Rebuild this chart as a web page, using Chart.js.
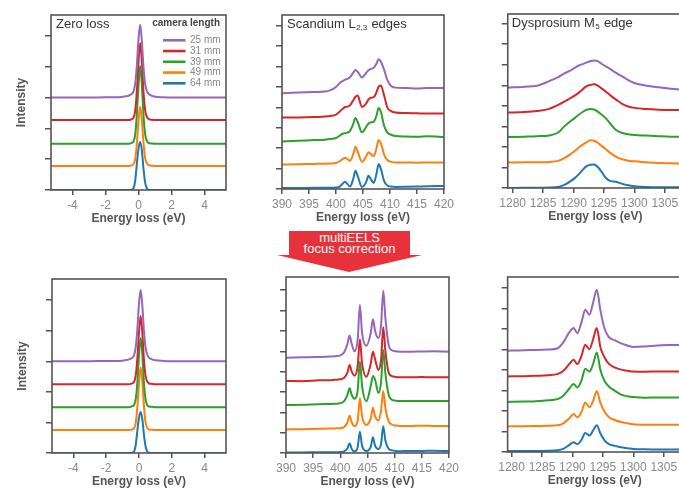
<!DOCTYPE html>
<html>
<head>
<meta charset="utf-8">
<script src="https://cdn.jsdelivr.net/npm/chart.js@4.4.1/dist/chart.umd.min.js"></script>
<style>
  body { margin: 0; width: 679px; height: 490px; overflow: hidden; position: relative; background: #fff;
         font-family: "Liberation Sans", Arial, sans-serif; }
  canvas { position: absolute; }
  #arrow { position: absolute; left: 277px; top: 231px; width: 145px; height: 41px; background: #e8323b;
           clip-path: polygon(12px 0, 133px 0, 133px 24px, 145px 24px, 72px 41px, 0 24px, 12px 24px);
           color: #fff; text-align: center; font-size: 13px; line-height: 10.5px; padding-top: 2px; box-sizing: border-box; }
</style>
</head>
<body>
<canvas id="zlTop"></canvas>
<canvas id="scTop"></canvas>
<canvas id="dyTop"></canvas>
<canvas id="zlBot"></canvas>
<canvas id="scBot"></canvas>
<canvas id="dyBot"></canvas>
<div id="arrow">multiEELS<br>focus correction</div>
<script>
// camera lengths, top of the stack first
const cameraLengths = ['25 mm', '31 mm', '39 mm', '49 mm', '64 mm'];
const lineColors = ['#9467bd', '#d62728', '#2ca02c', '#ff7f0e', '#1f77b4'];

// tick labels
const zlTicks = [-4, -2, 0, 2, 4];
const scTicks = [390, 395, 400, 405, 410, 415, 420];
const dyTicks = [1280, 1285, 1290, 1295, 1300, 1305];

// zero loss, energy axis (eV)
const zlX = [-5.3, -3, -2, -1.5, -1, -0.8, -0.6, -0.5, -0.4, -0.3, -0.2, -0.1, 0, 0.1, 0.2, 0.3, 0.4, 0.5, 0.6, 0.8, 1, 1.5, 2, 3, 5.3];
// before correction
const zlTop25 = [3.0, 3.0, 3.01, 3.01, 3.02, 3.04, 3.06, 3.09, 3.12, 3.2, 3.45, 4.05, 4.9, 5.36, 4.85, 4.0, 3.45, 3.22, 3.13, 3.06, 3.03, 3.01, 3.0, 3.0, 3.0];
const zlTop31 = [2.27, 2.27, 2.27, 2.27, 2.27, 2.27, 2.27, 2.28, 2.3, 2.35, 2.57, 3.2, 4.15, 4.77, 4.2, 3.2, 2.6, 2.38, 2.31, 2.28, 2.27, 2.27, 2.27, 2.27, 2.27];
const zlTop39 = [1.5, 1.5, 1.5, 1.5, 1.5, 1.5, 1.5, 1.51, 1.53, 1.58, 1.8, 2.45, 3.4, 4.03, 3.45, 2.45, 1.82, 1.6, 1.53, 1.51, 1.5, 1.5, 1.5, 1.5, 1.5];
const zlTop49 = [0.78, 0.78, 0.78, 0.78, 0.78, 0.78, 0.78, 0.79, 0.8, 0.84, 1.0, 1.5, 2.25, 2.7, 2.3, 1.55, 1.05, 0.87, 0.81, 0.79, 0.78, 0.78, 0.78, 0.78, 0.78];
const zlTop64 = [0, 0, 0, 0, 0, 0, 0, 0, 0.01, 0.06, 0.3, 0.85, 1.35, 1.56, 1.3, 0.7, 0.25, 0.06, 0.01, 0, 0, 0, 0, 0, 0];
// after correction
const zlBot25 = [3.0, 3.0, 3.01, 3.01, 3.02, 3.04, 3.06, 3.09, 3.12, 3.2, 3.45, 4.05, 4.9, 5.33, 4.85, 4.0, 3.45, 3.22, 3.13, 3.06, 3.03, 3.01, 3.0, 3.0, 3.0];
const zlBot31 = [2.25, 2.25, 2.25, 2.25, 2.25, 2.25, 2.25, 2.26, 2.28, 2.33, 2.53, 3.1, 3.95, 4.48, 3.95, 3.05, 2.52, 2.34, 2.28, 2.26, 2.25, 2.25, 2.25, 2.25, 2.25];
const zlBot39 = [1.5, 1.5, 1.5, 1.5, 1.5, 1.5, 1.5, 1.51, 1.53, 1.57, 1.76, 2.3, 3.2, 3.76, 3.25, 2.3, 1.75, 1.57, 1.52, 1.51, 1.5, 1.5, 1.5, 1.5, 1.5];
const zlBot49 = [0.75, 0.75, 0.75, 0.75, 0.75, 0.75, 0.75, 0.76, 0.77, 0.81, 0.98, 1.5, 2.3, 2.8, 2.35, 1.55, 1.0, 0.82, 0.77, 0.76, 0.75, 0.75, 0.75, 0.75, 0.75];
const zlBot64 = [0, 0, 0, 0, 0, 0, 0, 0, 0.01, 0.05, 0.26, 0.73, 1.16, 1.34, 1.12, 0.6, 0.22, 0.05, 0.01, 0, 0, 0, 0, 0, 0];

// scandium L2,3 edges
const scX = [390, 393, 396, 398, 399, 400, 400.7, 401.3, 401.7, 402.1, 402.6, 403.2, 403.6, 404.0, 404.8, 405.6, 406.0, 406.4, 407.0, 407.5, 407.9, 408.3, 408.9, 409.5, 410.2, 411, 413, 415, 417, 420];
const scTop25 = [4.7, 4.73, 4.75, 4.78, 4.85, 5.0, 5.2, 5.3, 5.36, 5.4, 5.48, 5.7, 5.83, 5.75, 5.47, 5.7, 5.82, 5.88, 5.95, 6.15, 6.36, 6.25, 5.85, 5.35, 5.05, 4.97, 4.95, 4.93, 4.95, 4.95];
const scTop31 = [3.5, 3.51, 3.53, 3.55, 3.58, 3.65, 3.8, 3.95, 4.02, 4.04, 4.1, 4.35, 4.52, 4.58, 4.02, 4.2, 4.38, 4.47, 4.5, 4.75, 5.02, 5.08, 4.6, 4.0, 3.82, 3.75, 3.72, 3.71, 3.7, 3.7];
const scTop39 = [2.33, 2.36, 2.4, 2.42, 2.45, 2.5, 2.62, 2.72, 2.74, 2.76, 2.85, 3.2, 3.48, 3.3, 2.78, 3.05, 3.2, 3.26, 3.3, 3.6, 3.97, 3.8, 3.1, 2.78, 2.66, 2.6, 2.57, 2.56, 2.58, 2.55];
const scTop49 = [1.2, 1.21, 1.23, 1.24, 1.25, 1.27, 1.36, 1.48, 1.53, 1.47, 1.38, 1.72, 2.07, 1.85, 1.33, 1.6, 1.8, 1.72, 1.62, 2.0, 2.4, 2.25, 1.7, 1.42, 1.33, 1.3, 1.3, 1.29, 1.3, 1.3];
const scTop64 = [0.05, 0.05, 0.06, 0.06, 0.06, 0.07, 0.12, 0.28, 0.35, 0.25, 0.12, 0.5, 0.9, 0.65, 0.1, 0.35, 0.65, 0.5, 0.3, 0.75, 1.22, 1.0, 0.4, 0.17, 0.12, 0.1, 0.11, 0.12, 0.13, 0.15];
const scBot25 = [4.68, 4.7, 4.72, 4.74, 4.76, 4.8, 4.95, 5.35, 5.77, 5.35, 5.0, 5.6, 7.27, 5.9, 5.27, 5.9, 6.57, 6.0, 5.65, 6.3, 7.98, 6.6, 5.3, 5.05, 5.0, 4.98, 4.98, 4.99, 5.0, 4.98];
const scBot31 = [3.54, 3.53, 3.57, 3.58, 3.6, 3.62, 3.7, 3.95, 4.32, 4.0, 3.8, 4.3, 5.59, 4.4, 3.75, 4.4, 4.98, 4.6, 4.08, 4.6, 6.18, 5.0, 3.95, 3.78, 3.74, 3.72, 3.72, 3.73, 3.72, 3.72];
const scBot39 = [2.36, 2.37, 2.4, 2.41, 2.42, 2.45, 2.55, 2.85, 3.18, 2.85, 2.67, 3.1, 4.49, 3.3, 2.55, 3.3, 3.79, 3.6, 2.95, 3.5, 5.06, 3.9, 2.85, 2.62, 2.57, 2.55, 2.55, 2.56, 2.55, 2.55];
const scBot49 = [1.16, 1.17, 1.19, 1.2, 1.21, 1.22, 1.28, 1.5, 1.83, 1.5, 1.32, 1.6, 2.69, 1.8, 1.38, 1.7, 2.23, 1.8, 1.6, 2.1, 3.05, 2.2, 1.55, 1.4, 1.35, 1.33, 1.33, 1.34, 1.33, 1.33];
const scBot64 = [0.03, 0.03, 0.04, 0.04, 0.04, 0.05, 0.08, 0.22, 0.48, 0.2, 0.08, 0.3, 1.05, 0.35, 0.1, 0.3, 0.77, 0.35, 0.2, 0.45, 1.32, 0.6, 0.2, 0.13, 0.1, 0.09, 0.1, 0.1, 0.11, 0.1];

// dysprosium M5 edge
const dyX = [1279.2, 1282, 1284, 1286, 1287.5, 1288.5, 1289.5, 1290.2, 1290.8, 1291.5, 1292.1, 1292.8, 1293.4, 1294, 1294.6, 1295.3, 1296, 1297, 1298, 1299, 1300, 1302, 1304, 1306, 1308];
const dyTop25 = [4.89, 4.93, 4.98, 5.2, 5.4, 5.58, 5.72, 5.85, 5.95, 6.03, 6.1, 6.18, 6.21, 6.18, 6.05, 5.92, 5.8, 5.6, 5.43, 5.25, 5.11, 4.98, 4.9, 4.83, 4.78];
const dyTop31 = [3.67, 3.7, 3.75, 3.85, 4.05, 4.2, 4.38, 4.5, 4.62, 4.8, 4.95, 5.02, 5.05, 4.98, 4.85, 4.7, 4.52, 4.3, 4.1, 3.97, 3.9, 3.84, 3.81, 3.8, 3.8];
const dyTop39 = [2.48, 2.5, 2.52, 2.56, 2.7, 3.0, 3.25, 3.4, 3.55, 3.7, 3.8, 3.85, 3.82, 3.72, 3.58, 3.4, 3.15, 2.82, 2.68, 2.62, 2.58, 2.55, 2.52, 2.5, 2.5];
const dyTop49 = [1.24, 1.25, 1.25, 1.27, 1.32, 1.45, 1.65, 1.8, 1.95, 2.1, 2.22, 2.32, 2.3, 2.2, 2.05, 1.9, 1.72, 1.52, 1.4, 1.33, 1.3, 1.25, 1.22, 1.2, 1.19];
const dyTop64 = [0.0, 0.01, 0.01, 0.02, 0.05, 0.15, 0.33, 0.48, 0.65, 0.88, 1.05, 1.13, 1.14, 1.02, 0.8, 0.5, 0.35, 0.3, 0.2, 0.13, 0.09, 0.05, 0.04, 0.04, 0.04];
const dyBot25 = [4.94, 4.97, 4.98, 5.0, 5.05, 5.35, 5.85, 6.05, 5.8, 6.35, 6.94, 6.7, 7.3, 7.92, 6.9, 6.0, 5.6, 5.45, 5.3, 5.2, 5.12, 5.15, 5.2, 5.22, 5.23];
const dyBot31 = [3.69, 3.7, 3.72, 3.75, 3.8, 3.95, 4.3, 4.5, 4.29, 4.7, 5.23, 5.02, 5.5, 6.05, 5.1, 4.6, 4.3, 4.12, 4.02, 3.97, 3.93, 3.92, 3.93, 3.93, 3.93];
const dyBot39 = [2.44, 2.46, 2.48, 2.52, 2.58, 2.75, 3.1, 3.32, 3.15, 3.5, 4.06, 3.93, 4.3, 4.86, 4.0, 3.45, 3.2, 2.98, 2.8, 2.72, 2.68, 2.65, 2.66, 2.66, 2.66];
const dyBot49 = [1.25, 1.26, 1.27, 1.28, 1.3, 1.4, 1.65, 1.85, 1.69, 1.95, 2.42, 2.18, 2.5, 2.96, 2.4, 1.95, 1.7, 1.55, 1.46, 1.4, 1.35, 1.33, 1.33, 1.33, 1.33];
const dyBot64 = [0.05, 0.05, 0.05, 0.06, 0.08, 0.15, 0.35, 0.47, 0.38, 0.6, 0.93, 0.8, 1.05, 1.3, 0.9, 0.55, 0.38, 0.3, 0.23, 0.18, 0.15, 0.13, 0.12, 0.12, 0.13];

const FONT = '"Liberation Sans", Arial, sans-serif';
const AXIS = '#555';

// box around the plot area
const framePlugin = {
  id: 'frame',
  afterDraw(chart) {
    const { ctx, chartArea: a } = chart;
    ctx.save();
    ctx.strokeStyle = AXIS;
    ctx.lineWidth = 1.6;
    ctx.strokeRect(a.left, a.top, a.right - a.left, a.bottom - a.top);
    ctx.restore();
  }
};

// panel title (with subscript) and the camera length key
const panelPlugin = {
  id: 'panel',
  afterDraw(chart, args, o) {
    const { ctx, chartArea: a } = chart;
    ctx.save();
    ctx.fillStyle = '#333';
    ctx.textBaseline = 'alphabetic';
    let x = a.left + o.dx;
    const y = a.top + o.dy;
    ctx.font = '13px ' + FONT;
    ctx.fillText(o.title, x, y);
    x += ctx.measureText(o.title).width + 0.5;
    if (o.sub) {
      ctx.font = '8px ' + FONT;
      ctx.fillText(o.sub, x, y + 2.5);
      x += ctx.measureText(o.sub).width + 0.5;
      ctx.font = '13px ' + FONT;
      ctx.fillText(o.rest, x, y);
    }
    if (o.legend) {
      ctx.font = 'bold 10px ' + FONT;
      ctx.fillStyle = '#444';
      ctx.textAlign = 'right';
      ctx.textBaseline = 'middle';
      ctx.fillText('camera length', a.left + 169, a.top + 8);
      ctx.textAlign = 'left';
      ctx.font = '10px ' + FONT;
      chart.data.datasets.forEach((ds, i) => {
        const yy = a.top + 25.3 + i * 10.75;
        ctx.strokeStyle = ds.borderColor;
        ctx.lineWidth = 2.6;
        ctx.beginPath();
        ctx.moveTo(a.left + 112, yy);
        ctx.lineTo(a.left + 134.5, yy);
        ctx.stroke();
        ctx.fillStyle = '#888';
        ctx.fillText(ds.label, a.left + 139, yy);
      });
    }
    ctx.restore();
  }
};

function spectrumChart(id, xs, series, xMin, xMax, xTicks, yMax, yTop, box, panel, yTitle) {
  const padL = box.padL, padT = 10, padR = 4, padB = 40;
  const cv = document.getElementById(id);
  cv.width = box.w + padL + padR;
  cv.height = box.h + padT + padB;
  cv.style.left = (box.x - padL) + 'px';
  cv.style.top = (box.y - padT) + 'px';

  const yTicks = [];
  for (let v = 0; v <= yTop; v++) yTicks.push(v);

  new Chart(cv, {
    type: 'line',
    data: {
      datasets: series.map((ys, i) => ({
        label: cameraLengths[i],
        data: xs.map((x, j) => ({ x: x, y: ys[j] })),
        borderColor: lineColors[i],
        borderWidth: 2,
        pointRadius: 0,
        fill: false,
        cubicInterpolationMode: 'monotone'
      }))
    },
    options: {
      responsive: false,
      animation: false,
      events: [],
      layout: { padding: { top: padT, right: padR, left: 0, bottom: 0 } },
      plugins: {
        legend: { display: false },
        tooltip: { enabled: false },
        panel: panel
      },
      scales: {
        x: {
          type: 'linear',
          min: xMin,
          max: xMax,
          afterBuildTicks: s => { s.ticks = xTicks.map(v => ({ value: v })); },
          afterFit: s => { s.height = padB; },
          border: { display: false },
          grid: { drawOnChartArea: false, drawTicks: true, tickLength: 5, color: AXIS, lineWidth: 1.5 },
          ticks: { color: '#8a8a8a', padding: 3, font: { family: FONT, size: 12 }, maxRotation: 0, autoSkip: false,
                   callback: v => String(v) },
          title: { display: true, text: 'Energy loss (eV)', color: AXIS, padding: { top: 0, bottom: 4 },
                   font: { family: FONT, size: 12, weight: 'bold' } }
        },
        y: {
          type: 'linear',
          min: 0,
          max: yMax,
          afterBuildTicks: s => { s.ticks = yTicks.map(v => ({ value: v })); },
          afterFit: s => { s.width = padL; },
          border: { display: false },
          grid: { drawOnChartArea: false, drawTicks: true, tickLength: 6, color: AXIS, lineWidth: 1.5 },
          ticks: { display: false },
          title: { display: !!yTitle, text: yTitle || '', color: AXIS, padding: { top: 14, bottom: 0 },
                   font: { family: FONT, size: 12, weight: 'bold' } }
        }
      }
    },
    plugins: [framePlugin, panelPlugin]
  });
}

spectrumChart('zlTop', zlX, [zlTop25, zlTop31, zlTop39, zlTop49, zlTop64], -5.3, 5.3, zlTicks, 5.68, 5,
  { x: 51, y: 15, w: 175, h: 175, padL: 51 },
  { title: 'Zero loss', dx: 5, dy: 13, legend: true }, 'Intensity');
spectrumChart('scTop', scX, [scTop25, scTop31, scTop39, scTop49, scTop64], 390, 420, scTicks, 8.53, 8,
  { x: 279, y: 15, w: 174, h: 174, padL: 10 },
  { title: 'Scandium L', sub: '2,3', rest: ' edges', dx: 5, dy: 12.5 });
spectrumChart('dyTop', dyX, [dyTop25, dyTop31, dyTop39, dyTop49, dyTop64], 1279.2, 1308, dyTicks, 8.47, 8,
  { x: 506, y: 14, w: 177, h: 174, padL: 10 },
  { title: 'Dysprosium M', sub: '5', rest: ' edge', dx: 4, dy: 12.5 });
spectrumChart('zlBot', zlX, [zlBot25, zlBot31, zlBot39, zlBot49, zlBot64], -5.3, 5.3, zlTicks, 5.69, 5,
  { x: 52, y: 279, w: 174, h: 174, padL: 51 },
  { title: '', dx: 5, dy: 13 }, 'Intensity');
spectrumChart('scBot', scX, [scBot25, scBot31, scBot39, scBot49, scBot64], 390, 420, scTicks, 8.65, 8,
  { x: 283, y: 277, w: 175, h: 176, padL: 10 },
  { title: '', dx: 5, dy: 13 });
spectrumChart('dyBot', dyX, [dyBot25, dyBot31, dyBot39, dyBot49, dyBot64], 1279.35, 1308, dyTicks, 8.54, 8,
  { x: 505, y: 277, w: 177, h: 175, padL: 10 },
  { title: '', dx: 5, dy: 13 });
</script>
</body>
</html>
